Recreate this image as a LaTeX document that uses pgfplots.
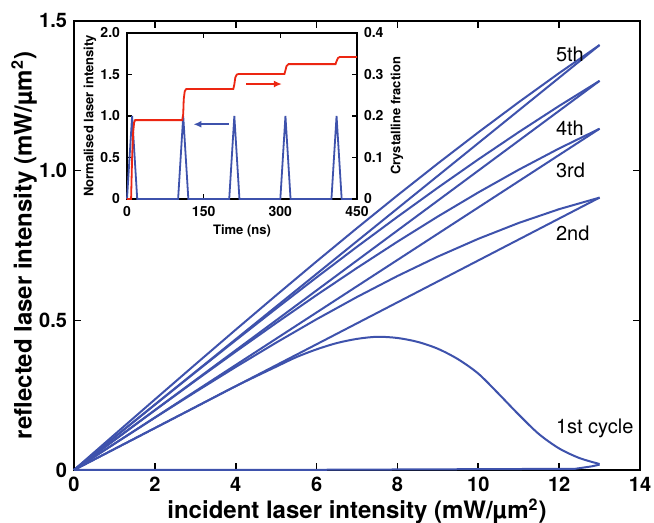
\documentclass[border=0pt]{standalone}
\usepackage{fontspec}
\setmainfont{TeX Gyre Heros}
\usepackage{pgfplots}
\pgfplotsset{compat=1.18}
\usetikzlibrary{arrows.meta}

\definecolor{cblue}{RGB}{62,82,172}
\definecolor{cred}{RGB}{236,38,18}

\pgfplotsset{
    cyc/.style={cblue, line width=1pt, solid, mark=none},
}

\begin{document}
\begin{tikzpicture}
\path[use as bounding box] (-37pt,-26.5pt) rectangle (290pt,235pt);

% main hysteresis plot
\begin{axis}[
    name=main, at={(0,0)}, anchor=south west,
    scale only axis, width=283pt, height=224.5pt,
    xmin=0, xmax=14, ymin=0, ymax=1.5,
    xtick={0,2,...,14},
    ytick={0,0.5,1,1.5}, yticklabels={0,0.5,1.0,1.5},
    /pgf/number format/assume math mode=true,
    tick label style={font=\fontsize{10}{12}\selectfont\bfseries},
    major tick length=3.5pt,
    axis line style={line width=0.8pt},
    every tick/.style={line width=0.8pt, black},
    clip=false,
]
% 5th cycle
\addplot[cyc] coordinates {(0,0) (1,0.118) (2,0.2356) (3,0.3526) (4,0.4687) (5,0.5835) (6,0.6968) (7,0.8082) (8,0.9174) (9,1.0240) (10,1.1279) (11,1.2287) (12,1.3260) (13,1.4196)};
\addplot[cyc] coordinates {(0,0) (1,0.1092) (2,0.2184) (3,0.3276) (4,0.4368) (5,0.5460) (6,0.6552) (7,0.7644) (8,0.8736) (9,0.9828) (10,1.0920) (11,1.2012) (12,1.3104) (13,1.4196)};
% 4th cycle
\addplot[cyc] coordinates {(0,0) (1,0.1091) (2,0.2180) (3,0.3261) (4,0.4333) (5,0.5392) (6,0.6434) (7,0.7457) (8,0.8457) (9,0.9431) (10,1.0376) (11,1.1287) (12,1.2163) (13,1.300)};
\addplot[cyc] coordinates {(0,0) (1,0.1) (2,0.2) (3,0.3) (4,0.4) (5,0.5) (6,0.6) (7,0.7) (8,0.8) (9,0.9) (10,1.0) (11,1.1) (12,1.2) (13,1.3)};
% 3rd cycle
\addplot[cyc] coordinates {(0,0) (1,0.0999) (2,0.1994) (3,0.2980) (4,0.3954) (5,0.4909) (6,0.5843) (7,0.6750) (8,0.7627) (9,0.8469) (10,0.9272) (11,1.0031) (12,1.0742) (13,1.1401)};
\addplot[cyc] coordinates {(0,0) (1,0.0877) (2,0.1754) (3,0.2631) (4,0.3508) (5,0.4385) (6,0.5262) (7,0.6139) (8,0.7016) (9,0.7893) (10,0.8770) (11,0.9647) (12,1.0524) (13,1.1401)};
% 2nd cycle
\addplot[cyc] coordinates {(0,0) (1,0.0876) (2,0.1746) (3,0.2603) (4,0.3441) (5,0.4254) (6,0.5036) (7,0.5780) (8,0.6480) (9,0.7130) (10,0.7723) (11,0.8253) (12,0.8714) (13,0.91)};
\addplot[cyc] coordinates {(0,0) (1,0.07) (2,0.14) (3,0.21) (4,0.28) (5,0.35) (6,0.42) (7,0.49) (8,0.56) (9,0.63) (10,0.70) (11,0.77) (12,0.84) (13,0.91)};
% 1st cycle
\addplot[cyc, smooth] coordinates {(0,0) (1,0.07) (2,0.14) (3,0.21) (4,0.28) (5,0.345) (5.5,0.377) (6,0.403) (6.5,0.424) (7,0.438) (7.5,0.445) (8,0.441) (8.5,0.428) (9,0.405) (9.5,0.37) (10,0.322) (10.5,0.255) (11,0.185) (11.5,0.12) (12,0.072) (12.5,0.04) (13,0.02)};
\addplot[cyc] coordinates {(0,0) (4.7,0) (12.4,0.004) (12.8,0.012) (13,0.018)};

\node[anchor=west, font=\fontsize{10}{12}\selectfont] at (axis cs:11.75,1.387) {5th};
\node[anchor=west, font=\fontsize{10}{12}\selectfont] at (axis cs:11.75,1.143) {4th};
\node[anchor=west, font=\fontsize{10}{12}\selectfont] at (axis cs:11.75,1.002) {3rd};
\node[anchor=west, font=\fontsize{10}{12}\selectfont] at (axis cs:11.75,0.792) {2nd};
\node[anchor=west, font=\fontsize{10}{12}\selectfont] at (axis cs:11.75,0.14) {1st cycle};

% axis labels
\node[anchor=center, font=\fontsize{12}{14}\selectfont\bfseries]
    at (rel axis cs:0.5,-0.092) {incident laser intensity (mW/µm\textsuperscript{2})};
\node[anchor=center, rotate=90, font=\fontsize{12}{14}\selectfont\bfseries]
    at (rel axis cs:-0.088,0.5) {reflected laser intensity (mW/µm\textsuperscript{2})};
\end{axis}

% inset: laser pulses (left axis)
\begin{axis}[
    at={(26.5pt,135.5pt)}, anchor=south west,
    scale only axis, width=115pt, height=83pt,
    xmin=0, xmax=450, ymin=0, ymax=2,
    xtick={0,150,300,450},
    ytick={0,0.5,1,1.5,2}, yticklabels={0,0.5,1.0,1.5,2.0},
    ytick pos=left,
    axis background/.style={fill=white},
    /pgf/number format/assume math mode=true,
    tick label style={font=\fontsize{7}{8}\selectfont\bfseries},
    major tick length=2.5pt,
    axis line style={line width=0.6pt},
    every tick/.style={line width=0.6pt, black},
    clip=false,
]
\addplot[cblue, line width=0.9pt, mark=none] coordinates {(0,0) (10,1) (20,0) (100,0) (110,1) (120,0) (200,0) (210,1) (220,0) (300,0) (310,1) (320,0) (400,0) (410,1) (420,0) (450,0)};
\draw[cblue, line width=0.9pt, -{Latex[length=4pt,width=3.5pt]}] (axis cs:199,0.9) -- (axis cs:130,0.9);
\node[anchor=center, font=\fontsize{6.5}{7.5}\selectfont\bfseries]
    at (rel axis cs:0.5,-0.195) {Time (ns)};
\node[anchor=center, rotate=90, font=\fontsize{6.5}{7.5}\selectfont\bfseries]
    at (rel axis cs:-0.161,0.5) {Normalised laser intensity};
\end{axis}

% inset: crystalline fraction (right axis)
\begin{axis}[
    at={(26.5pt,135.5pt)}, anchor=south west,
    scale only axis, width=115pt, height=83pt,
    xmin=0, xmax=450, ymin=0, ymax=0.4,
    axis x line=none, axis y line*=right,
    ytick={0,0.1,0.2,0.3,0.4}, yticklabels={0,0.1,0.2,0.3,0.4},
    tick label style={font=\fontsize{7}{8}\selectfont\bfseries},
    major tick length=2.5pt,
    axis line style={line width=0.6pt},
    every tick/.style={line width=0.6pt, black},
    clip=false,
]
\addplot[cred, line width=0.9pt, mark=none] coordinates {(0,0) (8,0) (10,0.1) (12,0.16) (14,0.185) (16,0.19) (108,0.19) (110,0.205) (111,0.24) (113,0.26) (116,0.265) (208,0.265) (210,0.276) (212,0.293) (215,0.3) (218,0.301) (308,0.301) (310,0.31) (312,0.32) (316,0.325) (408,0.325) (410,0.332) (413,0.34) (416,0.342) (450,0.342)};
\draw[cred, line width=0.9pt, -{Latex[length=4pt,width=3.5pt]}] (axis cs:233,0.277) -- (axis cs:303,0.277);
\node[anchor=center, rotate=90, font=\fontsize{6.5}{7.5}\selectfont\bfseries]
    at (rel axis cs:1.174,0.5) {Crystalline fraction};
\end{axis}
\end{tikzpicture}
\end{document}
